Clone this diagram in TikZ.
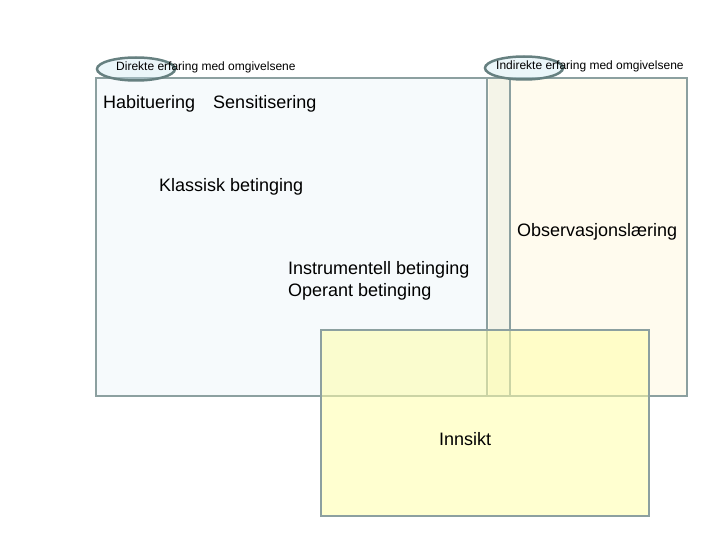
\documentclass[tikz,border=0pt]{standalone}
\usepackage{fontspec}
\setmainfont{Liberation Sans}
\usetikzlibrary{shapes.geometric}
\begin{document}
\begin{tikzpicture}[x=1pt,y=-1pt,
  big/.style={font=\fontsize{18}{22}\selectfont, anchor=west, inner sep=0pt, align=left},
  small/.style={font=\fontsize{12}{14}\selectfont, anchor=west, inner sep=0pt},
  ov/.style={ellipse, draw=gray!80!teal, line width=2.5pt, fill=gray!40!cyan!30, fill opacity=0.35, minimum width=78pt, minimum height=23pt}]
\useasboundingbox (0,0) rectangle (720,540);
\definecolor{bord}{RGB}{140,160,160}
\path[fill={rgb,255:red,246;green,250;blue,252}, draw=bord, line width=2.5pt] (96,78) rectangle (510,396);
\path[fill={rgb,255:red,255;green,251;blue,238}, draw=bord, line width=2.5pt] (487,78) rectangle (687,396);
\path[fill={rgb,255:red,244;green,244;blue,232}] (488.5,79.5) rectangle (508.5,394.5);
\draw[bord, line width=2.5pt] (96,78) rectangle (510,396);
\path[fill={rgb,255:red,255;green,255;blue,170}, fill opacity=0.55, draw=bord, line width=2.5pt] (321,330) rectangle (649,516);
\node[ov] (e1) at (136,69) {};
\node[ov] (e2) at (524,68) {};
\node[small] (d) at (116,67) {Direkte erfaring med omgivelsene};
\node[small] (i) at (496,66) {Indirekte erfaring med omgivelsene};
\node[big] (h) at (103,104) {Habituering\quad Sensitisering};
\node[big] (k) at (159,187) {Klassisk betinging};
\node[big] (o) at (517,232) {Observasjonslæring};
\node[big] (ib) at (288,281) {Instrumentell betinging\\Operant betinging};
\node[big] (in) at (439,439) {Innsikt};
\end{tikzpicture}
\end{document}
